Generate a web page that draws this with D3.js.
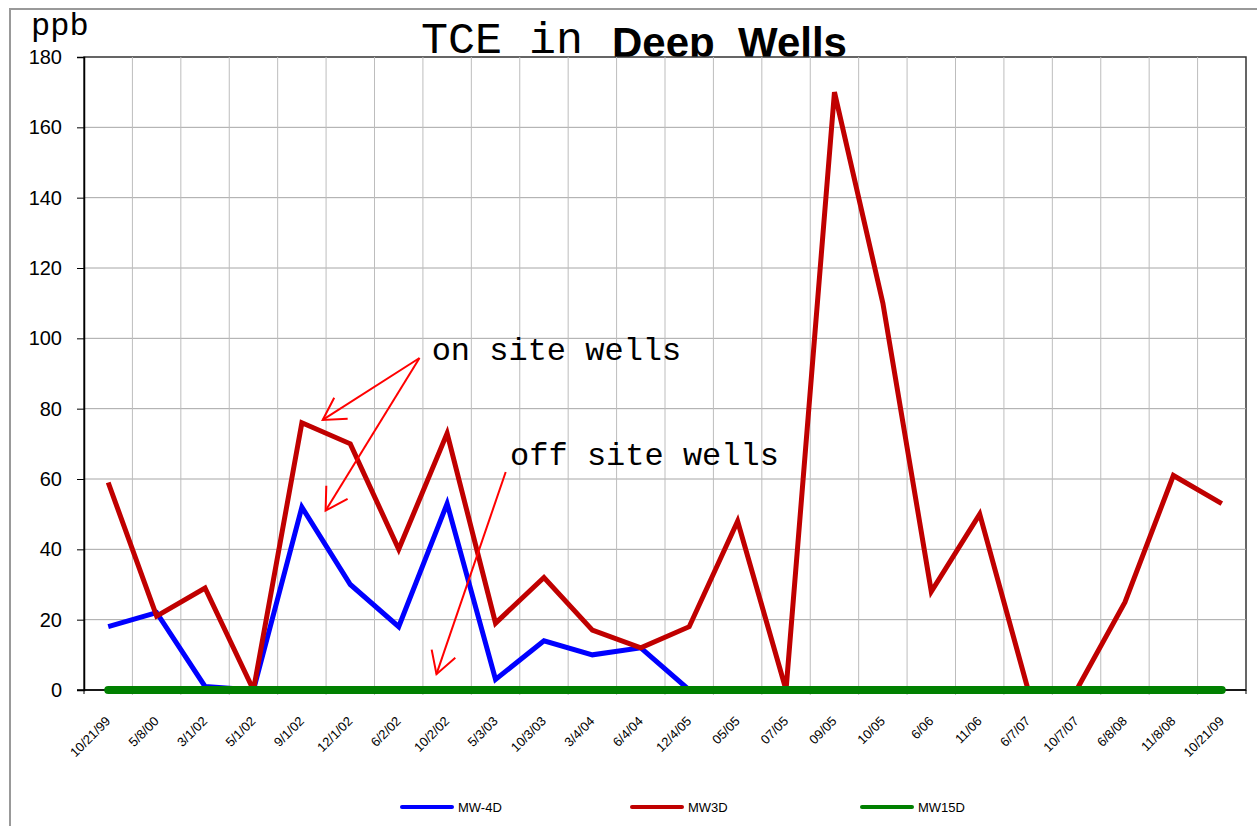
<!DOCTYPE html>
<html>
<head>
    <meta charset="UTF-8">
    <title>TCE in Deep Wells</title>
    <script src="https://cdn.jsdelivr.net/npm/d3@7/dist/d3.min.js"></script>
    <style>
        body { margin: 0; background: #fff; }
    </style>
</head>
<body>
    <script>
        // sample dates, as written on the chart
        var dates = ['10/21/99', '5/8/00', '3/1/02', '5/1/02', '9/1/02', '12/1/02', '6/2/02', '10/2/02',
            '5/3/03', '10/3/03', '3/4/04', '6/4/04', '12/4/05', '05/05', '07/05', '09/05', '10/05',
            '6/06', '11/06', '6/7/07', '10/7/07', '6/8/08', '11/8/08', '10/21/09']

        var mw4d = [18, 22, 1, 0, 52, 30, 18, 53, 3, 14, 10, 12, 0, 0, 0, 0, 0, 0, 0, 0, 0, 0, 0, 0]
        var mw3d = [59, 21, 29, 0, 76, 70, 40, 73, 19, 32, 17, 12, 18, 48, 0, 170, 110, 28, 50, 0, 0, 25, 61, 53]
        var mw15d = [0, 0, 0, 0, 0, 0, 0, 0, 0, 0, 0, 0, 0, 0, 0, 0, 0, 0, 0, 0, 0, 0, 0, 0]

        var seriesNames = ['MW-4D', 'MW3D', 'MW15D']
        var yTicks = [0, 20, 40, 60, 80, 100, 120, 140, 160, 180]

        // hand drawn notes, in (sample index, ppb)
        var noteLabels = [
            {text: 'on site wells', i: 6.68, v: 93.9},
            {text: 'off site wells', i: 8.3, v: 64.0}
        ]
        var noteArrows = [
            {i0: 6.43, v0: 94.4, i1: 4.43, v1: 76.8},
            {i0: 6.43, v0: 94.4, i1: 4.49, v1: 51.0},
            {i0: 8.21, v0: 62.0, i1: 6.78, v1: 4.5}
        ]

        var series = [
            {name: seriesNames[0], values: mw4d, color: '#0000ff', width: 5},
            {name: seriesNames[1], values: mw3d, color: '#c00000', width: 5},
            {name: seriesNames[2], values: mw15d, color: '#008000', width: 8}
        ]

        var W = 1257, H = 826
        var plotL = 84, plotR = 1246, plotT = 57, plotB = 690

        var svg = d3.select('body')
            .append('svg')
            .attr('width', W)
            .attr('height', H)

        svg.append('clipPath').attr('id', 'plotclip')
            .append('rect')
            .attr('x', plotL).attr('y', plotT)
            .attr('width', plotR - plotL).attr('height', plotB - plotT)

        // outer frame
        svg.append('rect')
            .attr('x', 10).attr('y', 9)
            .attr('width', W + 20).attr('height', H + 20)
            .attr('fill', 'none')
            .attr('stroke', '#999')
            .attr('stroke-width', 2)

        var x = d3.scaleBand().domain(dates).range([plotL, plotR]).padding(0)
        var xi = d3.scaleLinear().domain([0, dates.length - 1])
            .range([x(dates[0]) + x.bandwidth() / 2, x(dates[dates.length - 1]) + x.bandwidth() / 2])
        var y = d3.scaleLinear().domain([0, 180]).range([plotB, plotT])

        // title (drawn before the plot so the plot clips the descender)
        svg.append('text')
            .attr('x', 421).attr('y', 53)
            .attr('font-family', 'Liberation Mono, Courier New, monospace')
            .attr('font-size', 45)
            .attr('fill', '#000')
            .text('TCE in')
        svg.append('text')
            .attr('x', 612).attr('y', 57)
            .attr('font-family', 'Liberation Sans, Arial, sans-serif')
            .attr('font-weight', 'bold')
            .attr('font-size', 42)
            .attr('fill', '#000')
            .style('white-space', 'pre')
            .text('Deep  Wells')

        svg.append('text')
            .attr('x', 31).attr('y', 35)
            .attr('font-family', 'Liberation Mono, Courier New, monospace')
            .attr('font-size', 32)
            .text('ppb')

        // plot area
        svg.append('rect')
            .attr('x', plotL).attr('y', plotT)
            .attr('width', plotR - plotL).attr('height', plotB - plotT)
            .attr('fill', '#fff')
            .attr('stroke', '#333')
            .attr('stroke-width', 1.5)

        // horizontal grid
        svg.append('g').selectAll('line')
            .data(yTicks.slice(1, -1))
            .enter().append('line')
            .attr('x1', plotL).attr('x2', plotR)
            .attr('y1', function(d) { return y(d) })
            .attr('y2', function(d) { return y(d) })
            .attr('stroke', '#a6a6a6')
            .attr('stroke-width', 1)

        // vertical grid between samples
        svg.append('g').selectAll('line')
            .data(dates.slice(1))
            .enter().append('line')
            .attr('x1', function(d) { return x(d) })
            .attr('x2', function(d) { return x(d) })
            .attr('y1', plotT).attr('y2', plotB + 5)
            .attr('stroke', '#bdbdbd')
            .attr('stroke-width', 1)

        // y axis
        var yAxis = d3.axisLeft(y).tickValues(yTicks).tickSize(7).tickPadding(15)
        var gy = svg.append('g')
            .attr('transform', 'translate(' + plotL + ',0)')
            .call(yAxis)
        gy.select('.domain').attr('stroke', '#000').attr('stroke-width', 1.5)
        gy.selectAll('.tick line').attr('stroke', '#000')
        gy.selectAll('.tick text')
            .attr('font-family', 'Liberation Sans, Arial, sans-serif')
            .attr('font-size', 20)
            .attr('fill', '#000')

        // x axis line
        svg.append('line')
            .attr('x1', plotL - 7).attr('x2', plotR)
            .attr('y1', plotB).attr('y2', plotB)
            .attr('stroke', '#000')
            .attr('stroke-width', 1.5)
        svg.append('line')
            .attr('x1', plotL).attr('x2', plotL)
            .attr('y1', plotB).attr('y2', plotB + 4)
            .attr('stroke', '#000')
        svg.append('line')
            .attr('x1', plotR).attr('x2', plotR)
            .attr('y1', plotB).attr('y2', plotB + 4)
            .attr('stroke', '#000')

        // x labels
        svg.append('g').selectAll('text')
            .data(dates)
            .enter().append('text')
            .attr('transform', function(d) {
                return 'translate(' + (x(d) + x.bandwidth() / 2 + 3) + ',' + 722 + ') rotate(-45)'
            })
            .attr('text-anchor', 'end')
            .attr('font-family', 'Liberation Sans, Arial, sans-serif')
            .attr('font-size', 13)
            .attr('fill', '#000')
            .text(function(d) { return d })

        // lines
        var line = d3.line()
            .x(function(d, i) { return x(dates[i]) + x.bandwidth() / 2 })
            .y(function(d) { return y(d) })

        svg.append('g').selectAll('path')
            .data(series)
            .enter().append('path')
            .attr('d', function(s) { return line(s.values) })
            .attr('clip-path', function(s) { return s.width > 6 ? null : 'url(#plotclip)' })
            .attr('fill', 'none')
            .attr('stroke', function(s) { return s.color })
            .attr('stroke-width', function(s) { return s.width })
            .attr('stroke-linejoin', 'miter')
            .attr('stroke-linecap', function(s) { return s.width > 6 ? 'round' : 'butt' })

        // notes
        svg.append('g').selectAll('text')
            .data(noteLabels)
            .enter().append('text')
            .attr('x', function(d) { return xi(d.i) })
            .attr('y', function(d) { return y(d.v) })
            .attr('font-family', 'Liberation Mono, Courier New, monospace')
            .attr('font-size', 32)
            .attr('fill', '#000')
            .text(function(d) { return d.text })

        var arrows = svg.append('g')
            .attr('stroke', '#ff0000')
            .attr('stroke-width', 2)
            .attr('fill', 'none')
        noteArrows.forEach(function(a) {
            var x0 = xi(a.i0), y0 = y(a.v0), x1 = xi(a.i1), y1 = y(a.v1)
            var ang = Math.atan2(y0 - y1, x0 - x1)
            var len = 25, spread = Math.PI / 6
            arrows.append('line')
                .attr('x1', x0).attr('y1', y0).attr('x2', x1).attr('y2', y1)
            arrows.append('path')
                .attr('d', 'M' + (x1 + len * Math.cos(ang - spread)) + ',' + (y1 + len * Math.sin(ang - spread)) +
                    'L' + x1 + ',' + y1 +
                    'L' + (x1 + len * Math.cos(ang + spread)) + ',' + (y1 + len * Math.sin(ang + spread)))
        })

        // legend
        var legend = svg.append('g').selectAll('g')
            .data(series)
            .enter().append('g')
            .attr('transform', function(s, i) { return 'translate(' + (402 + i * 230) + ',807)' })
        legend.append('line')
            .attr('x1', 0).attr('x2', 50)
            .attr('stroke', function(s) { return s.color })
            .attr('stroke-width', 4)
            .attr('stroke-linecap', 'round')
        legend.append('text')
            .attr('x', 56).attr('y', 5)
            .attr('font-family', 'Liberation Sans, Arial, sans-serif')
            .attr('font-size', 13)
            .attr('fill', '#000')
            .text(function(s) { return s.name })
    </script>
</body>
</html>
